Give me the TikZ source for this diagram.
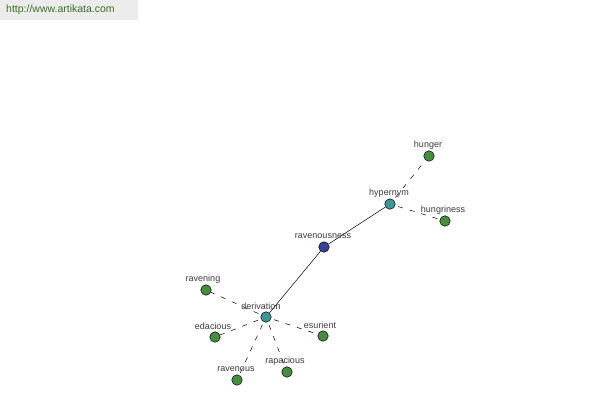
\documentclass[tikz,border=0pt]{standalone}
\usepackage{fontspec}
\setmainfont{Liberation Sans}
\definecolor{leaf}{RGB}{72,140,64}
\definecolor{hub}{RGB}{64,150,150}
\definecolor{root}{RGB}{56,64,150}
\definecolor{urlgreen}{RGB}{60,110,40}
\definecolor{band}{RGB}{236,236,236}
\definecolor{lbl}{RGB}{60,60,60}
\tikzset{
  wn/.style={circle,draw=black,line width=0.5pt,minimum size=10.5pt,inner sep=0pt},
  leafnode/.style={wn,fill=leaf},
  hubnode/.style={wn,fill=hub},
  rootnode/.style={wn,fill=root},
  wlabel/.style={font=\fontsize{9}{10}\selectfont,text=lbl,inner sep=0pt},
  solidlink/.style={draw=black,line width=0.5pt},
  dashlink/.style={draw=black,line width=0.5pt,dash pattern=on 5pt off 7pt,dash phase=-3pt}
}
\begin{document}
\begin{tikzpicture}[x=1pt,y=-1pt]
\useasboundingbox (0,0) rectangle (600,400);
\fill[white] (0,0) rectangle (600,400);
\fill[band] (0,0) rectangle (138,20);
\node[font=\fontsize{10.5}{12}\selectfont,text=urlgreen,anchor=west,inner sep=0pt] (url) at (6,10) {http://www.artikata.com};

\node[leafnode] (hunger) at (429,156) {};
\node[hubnode] (hypernym) at (390,204) {};
\node[leafnode] (hungriness) at (445,221) {};
\node[rootnode] (ravenousness) at (324,247) {};
\node[hubnode] (derivation) at (266,317) {};
\node[leafnode] (ravening) at (206,290) {};
\node[leafnode] (edacious) at (215,337) {};
\node[leafnode] (esurient) at (323,336) {};
\node[leafnode] (ravenous) at (237,380) {};
\node[leafnode] (rapacious) at (287,372) {};

\draw[solidlink] (ravenousness) -- (hypernym);
\draw[solidlink] (ravenousness) -- (derivation);
\draw[dashlink] (hypernym) -- (hunger);
\draw[dashlink] (hypernym) -- (hungriness);
\draw[dashlink] (derivation) -- (ravening);
\draw[dashlink] (derivation) -- (edacious);
\draw[dashlink] (derivation) -- (esurient);
\draw[dashlink] (derivation) -- (ravenous);
\draw[dashlink] (derivation) -- (rapacious);

\node[wlabel] (lhunger) at (428,145.5) {hunger};
\node[wlabel] (lhypernym) at (389,193.5) {hypernym};
\node[wlabel] (lhungriness) at (443,210.5) {hungriness};
\node[wlabel] (lravenousness) at (323,236.5) {ravenousness};
\node[wlabel] (lderivation) at (261,306.5) {derivation};
\node[wlabel] (lravening) at (203,279.5) {ravening};
\node[wlabel] (ledacious) at (213,326.5) {edacious};
\node[wlabel] (lesurient) at (320,325.5) {esurient};
\node[wlabel] (lravenous) at (236,369.5) {ravenous};
\node[wlabel] (lrapacious) at (285,361.5) {rapacious};
\end{tikzpicture}
\end{document}
